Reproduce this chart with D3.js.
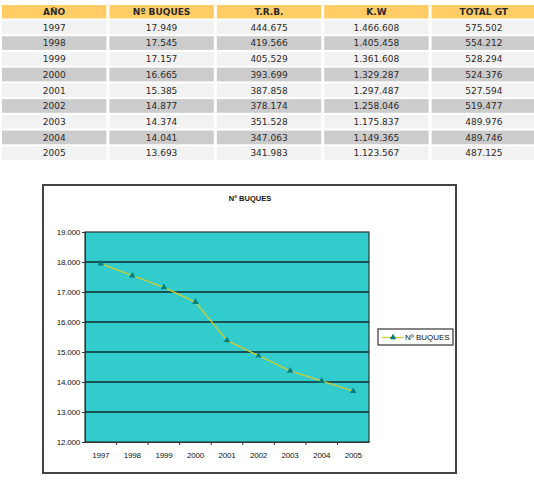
<!DOCTYPE html>
<html>
<head>
<meta charset="utf-8">
<script src="https://cdn.jsdelivr.net/npm/d3@7"></script>
<style>
  body { margin: 0; background: #fff; }
  svg { display: block; }
</style>
</head>
<body>
<svg id="chart" width="534" height="480"></svg>
<script>
// table data
var columns = ["AÑO", "Nº BUQUES", "T.R.B.", "K.W", "TOTAL GT"];
var years = ["1997", "1998", "1999", "2000", "2001", "2002", "2003", "2004", "2005"];
var buques = [17949, 17545, 17157, 16665, 15385, 14877, 14374, 14041, 13693];
var trb = [444675, 419566, 405529, 393699, 387858, 378174, 351528, 347063, 341983];
var kw = [1466608, 1405458, 1361608, 1329287, 1297487, 1258046, 1175837, 1149365, 1123567];
var totalGT = [575502, 554212, 528294, 524376, 527594, 519477, 489976, 489746, 487125];
var yTicks = [12000, 13000, 14000, 15000, 16000, 17000, 18000, 19000];

var svg = d3.select("#chart");

// spanish style thousands: dot separator
var fmt = d3.formatLocale({ decimal: ",", thousands: ".", grouping: [3], currency: ["", ""] }).format(",d");

// ---- table ----
var colX = d3.scaleBand().domain(columns).range([2, 536]).paddingInner(0.028);
var rowY = d3.scaleBand().domain(d3.range(years.length)).range([20.5, 160]).paddingInner(0.13);

var head = svg.append("g").attr("class", "thead");
head.selectAll("rect").data(columns).enter().append("rect")
    .attr("x", function (d) { return colX(d); })
    .attr("y", 5)
    .attr("width", colX.bandwidth())
    .attr("height", 13.5)
    .attr("fill", "#FFCC66");
head.selectAll("text").data(columns).enter().append("text")
    .attr("x", function (d) { return colX(d) + colX.bandwidth() / 2; })
    .attr("y", 15)
    .attr("text-anchor", "middle")
    .attr("font-family", "DejaVu Sans")
    .attr("font-weight", "bold")
    .attr("font-size", 9)
    .attr("fill", "#2a2a2a")
    .text(function (d) { return d; });

var rows = years.map(function (y, i) {
    return [y, fmt(buques[i]), fmt(trb[i]), fmt(kw[i]), fmt(totalGT[i])];
});

var tr = svg.append("g").attr("class", "tbody")
    .selectAll("g").data(rows).enter().append("g")
    .attr("transform", function (d, i) { return "translate(0," + rowY(i) + ")"; });

tr.each(function (row, i) {
    var g = d3.select(this);
    g.selectAll("rect").data(row).enter().append("rect")
        .attr("x", function (d, j) { return colX(columns[j]); })
        .attr("width", colX.bandwidth())
        .attr("height", rowY.bandwidth())
        .attr("fill", i % 2 ? "#CCCCCC" : "#F2F2F2");
    g.selectAll("text").data(row).enter().append("text")
        .attr("x", function (d, j) { return colX(columns[j]) + colX.bandwidth() / 2; })
        .attr("y", rowY.bandwidth() / 2 + 3.3)
        .attr("text-anchor", "middle")
        .attr("font-family", "DejaVu Sans")
        .attr("font-size", 9)
        .attr("fill", "#2a2a2a")
        .text(function (d) { return d; });
});

// ---- chart ----
var box = svg.append("g").attr("class", "chartbox");
box.append("rect")
    .attr("x", 43).attr("y", 185)
    .attr("width", 413).attr("height", 288)
    .attr("fill", "#fff")
    .attr("stroke", "#444")
    .attr("stroke-width", 2);

box.append("text")
    .attr("x", 250).attr("y", 201)
    .attr("text-anchor", "middle")
    .attr("font-family", "Liberation Sans")
    .attr("font-weight", "bold")
    .attr("font-size", 7.5)
    .attr("fill", "#111")
    .text("Nº BUQUES");

var x = d3.scaleBand().domain(years).range([85, 369]);
var y = d3.scaleLinear().domain([12000, 19000]).range([442, 232]);

box.append("rect")
    .attr("x", 85).attr("y", 232)
    .attr("width", 284).attr("height", 210)
    .attr("fill", "#33CCCC");

// gridlines
box.append("g").selectAll("line").data(yTicks.slice(1, -1)).enter().append("line")
    .attr("x1", 85).attr("x2", 369)
    .attr("y1", function (d) { return y(d); })
    .attr("y2", function (d) { return y(d); })
    .attr("stroke", "#122a2a")
    .attr("stroke-width", 1.5);

box.append("rect")
    .attr("x", 85).attr("y", 232)
    .attr("width", 284).attr("height", 210)
    .attr("fill", "none")
    .attr("stroke", "#333")
    .attr("stroke-width", 1.2);

// y axis
var yAxis = box.append("g")
    .attr("transform", "translate(85,0)")
    .call(d3.axisLeft(y).tickValues(yTicks).tickFormat(fmt).tickSize(3).tickPadding(2));
yAxis.select(".domain").attr("stroke", "#333");
yAxis.selectAll("line").attr("stroke", "#333");
yAxis.selectAll("text")
    .attr("font-family", "Liberation Sans")
    .attr("font-size", 8)
    .attr("letter-spacing", -0.2)
    .attr("fill", "#111");

// x axis
var xAxis = box.append("g")
    .attr("transform", "translate(0,442)")
    .call(d3.axisBottom(x).tickSize(0).tickPadding(10));
xAxis.select(".domain").attr("stroke", "#333");
xAxis.selectAll("text")
    .attr("font-family", "Liberation Sans")
    .attr("font-size", 8)
    .attr("letter-spacing", -0.2)
    .attr("fill", "#111");
xAxis.selectAll(".sep").data(years.slice(1)).enter().append("line")
    .attr("class", "sep")
    .attr("x1", function (d) { return x(d); })
    .attr("x2", function (d) { return x(d); })
    .attr("y1", 0).attr("y2", 3)
    .attr("stroke", "#333");

// series
var pts = years.map(function (yr, i) { return { year: yr, v: buques[i] }; });
var line = d3.line()
    .x(function (d) { return x(d.year) + x.bandwidth() / 2; })
    .y(function (d) { return y(d.v); });

box.append("path")
    .datum(pts)
    .attr("d", line)
    .attr("fill", "none")
    .attr("stroke", "#CCCC33")
    .attr("stroke-width", 1.3);

var tri = d3.symbol().type(d3.symbolTriangle).size(18);
box.append("g").selectAll("path").data(pts).enter().append("path")
    .attr("d", tri)
    .attr("transform", function (d) {
        return "translate(" + (x(d.year) + x.bandwidth() / 2) + "," + y(d.v) + ")";
    })
    .attr("fill", "#007F7F");

// legend
var leg = box.append("g").attr("transform", "translate(378,329)");
leg.append("rect")
    .attr("width", 75).attr("height", 16)
    .attr("fill", "#fff")
    .attr("stroke", "#444")
    .attr("stroke-width", 1.3);
leg.append("line")
    .attr("x1", 4).attr("x2", 26)
    .attr("y1", 8.5).attr("y2", 8.5)
    .attr("stroke", "#CCCC33")
    .attr("stroke-width", 1.3);
leg.append("path")
    .attr("d", tri)
    .attr("transform", "translate(15,8.5)")
    .attr("fill", "#007F7F");
leg.append("text")
    .attr("x", 27).attr("y", 11)
    .attr("font-family", "Liberation Sans")
    .attr("font-size", 8)
    .attr("fill", "#111")
    .text("Nº BUQUES");
</script>
</body>
</html>
